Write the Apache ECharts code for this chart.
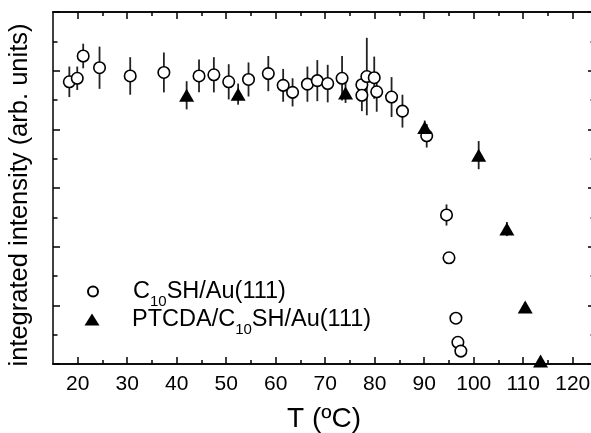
<!DOCTYPE html>
<html><head><meta charset="utf-8">
<script src="https://cdn.jsdelivr.net/npm/echarts@6/dist/echarts.min.js"></script>
<style>html,body{margin:0;padding:0;background:#fff}#c{width:591px;height:433px}</style>
</head><body><div id="c"></div>
<script>
// tick values
const xMajorTicks = [20, 30, 40, 50, 60, 70, 80, 90, 100, 110, 120];
const xMinorTicks = [25, 35, 45, 55, 65, 75, 85, 95, 105, 115];

// C10SH/Au(111) : temperature, intensity, error
const c10T   = [18.3, 19.9, 21.1, 24.4, 30.6, 37.4, 44.5, 47.5, 50.5, 54.5, 58.5, 61.5, 63.4, 66.4, 68.4, 70.5, 73.4, 77.4, 77.4, 78.4, 79.9, 80.4, 83.4, 85.6, 90.5, 94.5, 95.0, 96.4, 96.8, 97.4];
const c10I   = [4.81, 4.87, 5.25, 5.05, 4.91, 4.97, 4.91, 4.93, 4.81, 4.85, 4.95, 4.75, 4.63, 4.77, 4.83, 4.78, 4.87, 4.76, 4.58, 4.90, 4.88, 4.64, 4.55, 4.31, 3.89, 2.54, 1.81, 0.78, 0.37, 0.22];
const c10Err = [0.26, 0.20, 0.21, 0.36, 0.32, 0.34, 0.28, 0.30, 0.30, 0.29, 0.30, 0.28, 0.24, 0.30, 0.35, 0.32, 0.38, 0.20, 0.27, 0.66, 0.36, 0.34, 0.34, 0.28, 0.20, 0.18, 0.05, 0.05, 0.03, 0.03];

// PTCDA/C10SH/Au(111)
const ptT   = [42.0, 52.4, 74.1, 90.1, 101.0, 106.7, 110.4, 113.5];
const ptI   = [4.58, 4.60, 4.62, 4.03, 3.56, 2.30, 0.97, 0.05];
const ptErr = [0.24, 0.18, 0.17, 0.12, 0.24, 0.12, 0.06, 0.02];

const nameC10 = 'C10SH/Au(111)';
const namePT = 'PTCDA/C10SH/Au(111)';

const FONT = 'Liberation Sans';
const zip3 = (a, b, c) => a.map((v, i) => [v, b[i], c[i]]);
const zip2 = (a, b) => a.map((v, i) => [v, b[i]]);

function errRender(params, api) {
  const x = api.value(0), y = api.value(1), e = api.value(2);
  const p1 = api.coord([x, y - e]);
  const p2 = api.coord([x, y + e]);
  return { type: 'line', shape: { x1: p1[0], y1: p1[1], x2: p2[0], y2: p2[1] },
           style: { stroke: '#222', lineWidth: 1.8 } };
}

const richText = {
  n: { fontSize: 23.5, lineHeight: 24, color: '#000', fontFamily: FONT, verticalAlign: 'middle' },
  s: { fontSize: 15, lineHeight: 16, color: '#000', fontFamily: FONT, padding: [20, 0, 0, 0], verticalAlign: 'middle' }
};

const X = { min: 15, max: 124.5 };
const axLine = { show: true, lineStyle: { color: '#000', width: 1.5 } };

function xAx(pos, major, labels) {
  return {
    type: 'value', position: pos, min: X.min, max: X.max,
    axisLine: axLine,
    axisTick: { show: true, inside: true, length: major ? 7 : 4, customValues: major ? xMajorTicks : xMinorTicks,
                lineStyle: { color: '#000', width: 1.5 } },
    axisLabel: labels ? { show: true, customValues: xMajorTicks, color: '#000', fontSize: 21, fontFamily: FONT, margin: 10 } : { show: false },
    splitLine: { show: false }
  };
}

const xAxes = [xAx('bottom', true, true), xAx('bottom', false, false), xAx('top', true, false), xAx('top', false, false)];
xAxes[0].name = 'T (ºC)';
xAxes[0].nameLocation = 'middle';
xAxes[0].nameGap = 41;
xAxes[0].nameTextStyle = { fontSize: 28, color: '#000', fontFamily: FONT };

function yAx(pos) {
  return {
    type: 'value', position: pos, min: 0, max: 6, interval: 1,
    axisLine: axLine,
    axisTick: { show: true, inside: true, length: 7, lineStyle: { color: '#000', width: 1.5 } },
    minorTick: { show: true, splitNumber: 2, length: 4.5, lineStyle: { color: '#000', width: 1.5 } },
    axisLabel: { show: false },
    splitLine: { show: false }, minorSplitLine: { show: false }
  };
}
const yAxes = [yAx('left'), yAx('right')];
yAxes[0].name = 'integrated intensity (arb. units)';
yAxes[0].nameLocation = 'middle';
yAxes[0].nameGap = 20;
yAxes[0].nameTextStyle = { fontSize: 25.5, color: '#000', fontFamily: FONT, padding: [0, 14, 0, 0] };

const chart = echarts.init(document.getElementById('c'), null, { renderer: 'canvas' });
chart.setOption({
  animation: false,
  backgroundColor: '#fff',
  grid: { left: 53, top: 12, right: -4, bottom: 69, containLabel: false, outerBoundsMode: 'none' },
  xAxis: xAxes,
  yAxis: yAxes,
  legend: [
    { data: [nameC10], orient: 'vertical', left: 87, top: 274, padding: 0, itemWidth: 10, itemHeight: 10,
      selectedMode: false,
      formatter: () => '{g| }{n|C}{s|10}{n|SH/Au(111)}',
      textStyle: { rich: Object.assign({}, richText, { g: { width: 30 } }) } },
    { data: [namePT], orient: 'vertical', left: 84.5, top: 302, padding: 0, itemWidth: 15, itemHeight: 12,
      selectedMode: false,
      formatter: () => '{g| }{n|PTCDA/C}{s|10}{n|SH/Au(111)}',
      textStyle: { rich: Object.assign({}, richText, { g: { width: 27.5 } }) } }
  ],
  series: [
    { type: 'custom', name: 'errC10', xAxisIndex: 0, yAxisIndex: 0, renderItem: errRender,
      data: zip3(c10T, c10I, c10Err), z: 1, silent: true },
    { type: 'custom', name: 'errPT', xAxisIndex: 0, yAxisIndex: 0, renderItem: errRender,
      data: zip3(ptT, ptI, ptErr), z: 1, silent: true },
    { type: 'scatter', name: nameC10, xAxisIndex: 0, yAxisIndex: 0, symbol: 'circle', symbolSize: 11.5,
      itemStyle: { color: '#fff', borderColor: '#000', borderWidth: 1.6, opacity: 1 },
      data: zip2(c10T, c10I), z: 3 },
    { type: 'scatter', name: namePT, xAxisIndex: 0, yAxisIndex: 0, symbol: 'triangle', symbolSize: [15, 13],
      itemStyle: { color: '#000', opacity: 1 },
      data: zip2(ptT, ptI), z: 4 }
  ]
});
</script>
</body></html>
